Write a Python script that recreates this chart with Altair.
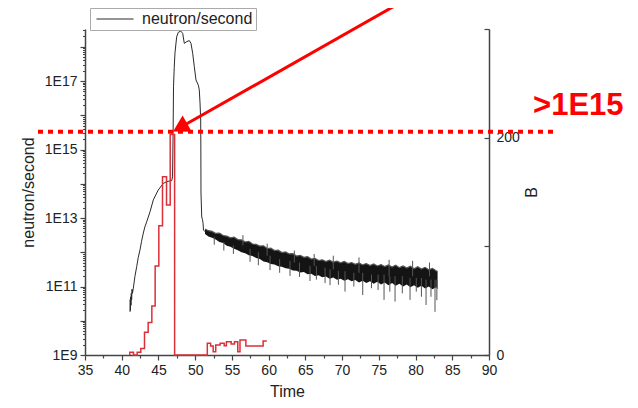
import altair as alt
import pandas as pd

# ---------------- data ----------------
# main neutron/second curve: time and log10(neutron/second)
curve_time = [41.13, 41.16, 41.19, 41.22, 41.26, 41.30, 41.35, 41.40, 41.46, 41.58,
              41.80, 42.04, 42.25, 42.49, 42.70, 42.94, 43.15, 43.40, 43.85, 44.30,
              44.98, 45.66, 46.12, 46.50, 46.80, 46.92, 47.00, 47.05, 47.15, 47.25,
              47.48, 47.70, 48.03, 48.30, 48.52, 48.85, 49.20, 49.43, 49.66, 49.88,
              50.11, 50.43, 50.56, 50.66, 50.75, 50.77, 50.79, 50.89, 51.00, 51.07,
              51.13, 51.34]
curve_log = [10.26, 10.62, 10.30, 10.70, 10.45, 10.80, 10.62, 10.92, 10.80, 10.95,
             11.30, 11.58, 11.85, 12.07, 12.32, 12.56, 12.74, 12.89, 13.18, 13.53,
             13.82, 14.01, 14.06, 14.08, 14.09, 14.20, 15.60, 16.83, 17.40, 17.82,
             18.29, 18.42, 18.46, 18.39, 18.10, 18.15, 18.18, 18.10, 17.81, 17.42,
             17.03, 16.88, 16.74, 16.36, 15.86, 15.19, 13.73, 13.03, 12.95, 12.85,
             12.65, 12.60]

# noisy decay tail: envelope of the band (log10), read every half unit of time
tail_time = [51.34, 51.8, 52.3, 52.8, 53.3, 53.8, 54.3, 54.8, 55.3, 55.8, 56.3, 56.8,
             57.3, 57.8, 58.3, 58.8, 59.3, 59.8, 60.3, 60.8, 61.3, 61.8, 62.3, 62.8,
             63.3, 63.8, 64.3, 64.8, 65.3, 65.8, 66.3, 66.8, 67.3, 67.8, 68.3, 68.8,
             69.3, 69.8, 70.3, 70.8, 71.3, 71.8, 72.3, 72.8, 73.3, 73.8, 74.3, 74.8,
             75.3, 75.8, 76.3, 76.8, 77.3, 77.8, 78.3, 78.8, 79.3, 79.8, 80.3, 80.8,
             81.3, 81.8, 82.3, 82.8, 83.0]
tail_upper = [12.68, 12.63, 12.61, 12.55, 12.56, 12.49, 12.47, 12.42, 12.44, 12.37,
              12.36, 12.30, 12.32, 12.24, 12.23, 12.18, 12.19, 12.11, 12.12, 12.05,
              12.06, 11.99, 12.01, 11.95, 11.96, 11.89, 11.91, 11.85, 11.87, 11.80,
              11.82, 11.76, 11.78, 11.73, 11.77, 11.71, 11.74, 11.69, 11.73, 11.67,
              11.70, 11.65, 11.69, 11.63, 11.67, 11.61, 11.66, 11.60, 11.64, 11.58,
              11.63, 11.57, 11.62, 11.55, 11.60, 11.54, 11.59, 11.52, 11.58, 11.51,
              11.56, 11.49, 11.53, 11.46, 11.44]
tail_lower = [12.53, 12.46, 12.42, 12.37, 12.30, 12.27, 12.19, 12.16, 12.10, 12.06,
              12.00, 11.97, 11.91, 11.89, 11.83, 11.80, 11.73, 11.71, 11.66, 11.64,
              11.59, 11.58, 11.53, 11.52, 11.47, 11.46, 11.41, 11.42, 11.36, 11.37,
              11.31, 11.33, 11.27, 11.29, 11.23, 11.26, 11.20, 11.23, 11.17, 11.21,
              11.15, 11.19, 11.12, 11.17, 11.10, 11.15, 11.08, 11.14, 11.06, 11.12,
              11.04, 11.10, 11.02, 11.08, 11.00, 11.06, 10.98, 11.04, 10.96, 11.02,
              10.94, 11.00, 10.92, 10.98, 10.92]

# visible spikes in the tail (time, top log10, bottom log10)
spike_time = [52.6, 53.9, 55.2, 56.5, 57.47, 58.6, 59.8, 60.19, 61.5, 62.91, 63.5,
              64.2, 65.63, 66.2, 66.5, 67.68, 68.36, 68.8, 69.5, 70.4, 71.6, 72.3,
              72.81, 74.0, 74.9, 75.71, 76.4, 76.5, 77.21, 78.2, 79.25, 79.6, 80.1,
              80.8, 81.43, 81.9, 82.1, 82.65, 82.9]
spike_top = [12.45, 12.3, 12.2, 12.5, 12.1, 12.0, 12.25, 11.9, 11.8, 11.75, 12.05,
             11.7, 11.6, 11.95, 11.6, 11.55, 11.5, 11.9, 11.45, 11.45, 11.4, 11.85,
             11.4, 11.35, 11.35, 11.35, 11.78, 11.3, 11.3, 11.3, 11.25, 11.75, 11.25,
             11.25, 11.2, 11.7, 11.2, 11.2, 11.2]
spike_bottom = [12.22, 12.05, 11.95, 12.2, 11.72, 11.62, 11.9, 11.48, 11.4, 11.31,
                11.7, 11.28, 11.16, 11.6, 11.2, 11.10, 11.04, 11.5, 11.05, 10.85,
                11.0, 11.4, 10.75, 10.95, 10.9, 10.61, 11.3, 10.85, 10.56, 10.8,
                10.61, 11.3, 10.85, 10.7, 10.46, 11.3, 10.7, 10.26, 10.6]

# B histogram (step outline, right axis)
b_time = [41.1, 41.1, 41.6, 42.1, 42.6, 43.1, 43.6, 44.1, 44.55, 45.05, 45.55, 46.1,
          46.6, 47.2, 51.65, 52.1, 52.45, 52.8, 53.4, 53.95, 54.25, 54.9, 55.35,
          55.8, 56.1, 56.9, 59.25, 59.75]
b_value = [0, 2.5, 0, 2.5, 6, 21, 30, 45, 82, 119, 164, 138, 203, 0, 10.7, 8.2, 3.0,
           9.2, 10.7, 8.5, 12.2, 10.1, 12.2, 3.0, 13.7, 8.2, 12.8, 12.8]

# annotation: threshold line, label, arrow
threshold_value = 3.3e15
threshold_time = [28.6, 99.2]
label_text = [">1E15"]
label_time = [96.0]
label_value = [1.0e16]
arrow_time = [78.57, 47.95]
arrow_value = [2.32e19, 4.37e15]

# axes
x_major = [35, 40, 45, 50, 55, 60, 65, 70, 75, 80, 85, 90]
x_minor = [37.5, 42.5, 47.5, 52.5, 57.5, 62.5, 67.5, 72.5, 77.5, 82.5, 87.5]
y_decades = [10.0 ** e for e in range(9, 19)]
y_minor = [k * 10.0 ** e for e in range(9, 19) for k in range(2, 10) if k * 10.0 ** e < 3.3e18]
b_ticks = [0, 100, 200, 300]

# ---------------- tables ----------------
df_curve = pd.DataFrame({"Time": curve_time, "n": [10 ** v for v in curve_log],
                         "series": "neutron/second"})
df_tail = pd.DataFrame({"Time": tail_time, "hi": [10 ** v for v in tail_upper],
                        "lo": [10 ** v for v in tail_lower]})
df_spike = pd.DataFrame({"Time": spike_time, "hi": [10 ** v for v in spike_top],
                         "lo": [10 ** v for v in spike_bottom]})
df_b = pd.DataFrame({"Time": b_time, "B": b_value, "idx": range(len(b_time))})
df_thr = pd.DataFrame({"t1": [threshold_time[0]], "t2": [threshold_time[1]],
                       "v": [threshold_value]})
df_label = pd.DataFrame({"Time": label_time, "v": label_value, "text": label_text})
df_arrow = pd.DataFrame({"t1": [arrow_time[0]], "t2": [arrow_time[1]],
                         "v1": [arrow_value[0]], "v2": [arrow_value[1]]})
df_head = pd.DataFrame({"Time": [arrow_time[1]], "v": [arrow_value[1]]})

FONT = "Liberation Sans"
AX = "#444444"
xs = alt.Scale(domain=[35, 90], nice=False, zero=False)
ys = alt.Scale(type="log", domain=[1e9, 3.3e18], nice=False)
bs = alt.Scale(domain=[0, 300], nice=False, zero=False)

x_axis = alt.Axis(values=x_major, title="Time", orient="bottom", tickSize=5, tickColor=AX,
                  tickWidth=1.2, domainColor=AX, domainWidth=1.5, labelFontSize=14,
                  labelColor="#222", titleFontSize=16, titleColor="#222",
                  titleFontWeight="normal", labelPadding=3, titlePadding=6,
                  labelFont=FONT, titleFont=FONT, grid=False, labelFlush=False)
y_axis = alt.Axis(values=y_decades, title="neutron/second", orient="left",
                  labelExpr="round(log(datum.value)/LN10) % 2 == 1 ? '1E' + round(log(datum.value)/LN10) : ''",
                  tickSize=5, tickColor=AX, tickWidth=1.2, domainColor=AX, domainWidth=1.5,
                  labelFontSize=14, labelColor="#222", titleFontSize=16, titleColor="#222",
                  titleFontWeight="normal", labelPadding=3, titlePadding=8,
                  labelFont=FONT, titleFont=FONT, grid=False, labelOverlap=False,
                  labelFlush=False)


def X(f="Time", ax=None):
    return alt.X(f"{f}:Q", scale=xs, axis=ax)


base_curve = alt.Chart(df_curve)
line = base_curve.mark_line(strokeWidth=1).encode(
    x=X(),
    y=alt.Y("n:Q", scale=ys, axis=None),
    color=alt.Color("series:N", scale=alt.Scale(domain=["neutron/second"], range=["#2a2a2a"]),
                    legend=alt.Legend(orient="none", legendX=5, legendY=-21, title=None,
                                      symbolType="M-3.7,0L3.7,0", symbolSize=100,
                                      symbolOffset=14, symbolStrokeWidth=1.2,
                                      labelFontSize=16, labelFont=FONT, labelColor="#222",
                                      strokeColor="#aaaaaa", fillColor="white",
                                      padding=3, labelOffset=19)),
)
band = alt.Chart(df_tail).mark_area(color="#141414", opacity=1,
                                    line={"color": "#555555", "strokeWidth": 1.2}).encode(
    x=X(), y=alt.Y("hi:Q", scale=ys, axis=None), y2="lo:Q")
spikes = alt.Chart(df_spike).mark_rule(color="#555555", strokeWidth=1).encode(
    x=X(), y=alt.Y("hi:Q", scale=ys, axis=None), y2="lo:Q")
thr = alt.Chart(df_thr).mark_rule(color="#ff0000", strokeWidth=4, strokeDash=[5, 5]).encode(
    x=alt.X("t1:Q", scale=xs, axis=None), x2="t2:Q", y=alt.Y("v:Q", scale=ys, axis=None))
label = alt.Chart(df_label).mark_text(align="left", baseline="alphabetic", font=FONT,
                                      fontSize=31, fontWeight="bold", color="#ff0000").encode(
    x=X(), y=alt.Y("v:Q", scale=ys, axis=None), text="text:N")
arrow = alt.Chart(df_arrow).mark_rule(color="#ff0000", strokeWidth=3).encode(
    x=alt.X("t1:Q", scale=xs, axis=None), x2="t2:Q",
    y=alt.Y("v1:Q", scale=ys, axis=None), y2="v2:Q")
head = alt.Chart(df_head).mark_point(shape="triangle-up", filled=True, size=350,
                                     angle=240.6, color="#ff0000", opacity=1).encode(
    x=X(), y=alt.Y("v:Q", scale=ys, axis=None))

log_layer = alt.layer(band, spikes, line, thr, arrow, head, label)

main_axes = base_curve.mark_point(opacity=0).encode(
    x=X(ax=x_axis), y=alt.Y("n:Q", scale=ys, axis=y_axis))

minor_axes = base_curve.mark_point(opacity=0).encode(
    x=X(ax=alt.Axis(values=x_minor, orient="bottom", labels=False, domain=False,
                    tickSize=3, tickColor=AX, tickWidth=1.2, title=None, grid=False)),
    y=alt.Y("n:Q", scale=ys, axis=alt.Axis(values=y_minor, orient="left", labels=False,
                                           domain=False, tickSize=2.5, tickColor=AX,
                                           tickWidth=1, title=None, grid=False)))

hist = alt.Chart(df_b).mark_line(interpolate="step-after", color="#dc3038",
                                 strokeWidth=1.5).encode(
    x=X(), y=alt.Y("B:Q", scale=bs,
                   axis=alt.Axis(orient="right", values=[0, 200], ticks=False,
                                 domainColor=AX, domainWidth=1.5, labelFontSize=14,
                                 labelColor="#222", labelPadding=7, labelFont=FONT,
                                 title="B", titleFontSize=16, titleColor="#222",
                                 titleFontWeight="normal", titleFont=FONT, titleAngle=270,
                                 titlePadding=20, grid=False, labelFlush=False)),
    order="idx:Q")

b_ticks_layer = alt.Chart(df_b).mark_point(opacity=0).encode(
    x=X(), y=alt.Y("B:Q", scale=bs,
                   axis=alt.Axis(orient="left", offset=-404, values=b_ticks, labels=False,
                                 domain=False, tickSize=5, tickColor=AX, tickWidth=1.2,
                                 title=None, grid=False)))

chart = alt.layer(log_layer, main_axes, minor_axes, hist, b_ticks_layer).resolve_scale(
    y="independent").resolve_axis(x="independent").properties(
    width=404, height=326, autosize="none",
    padding={"left": 77, "top": 21, "right": 141, "bottom": 45},
).configure_view(stroke=None)

chart.save("out.html", embed_options={"renderer": "svg", "actions": False})
